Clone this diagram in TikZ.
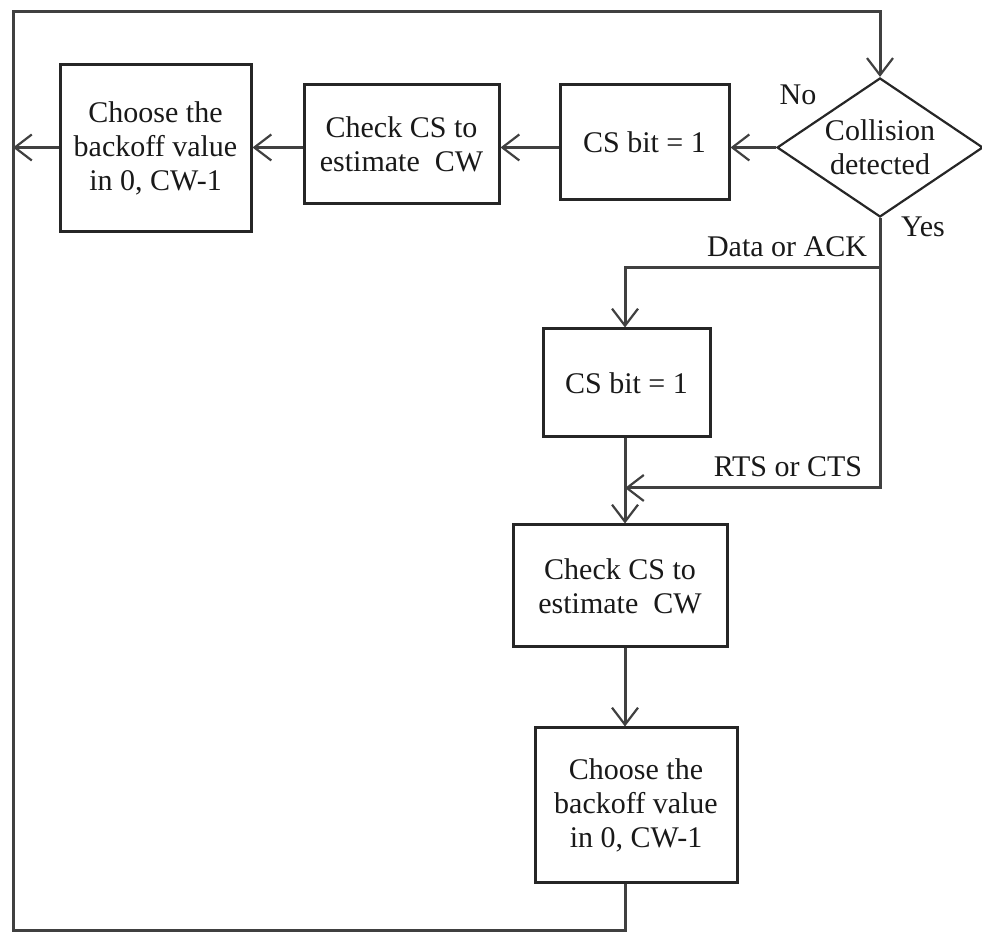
\documentclass[tikz,border=0pt]{standalone}
\usepackage{fontspec}
\setmainfont{Liberation Serif}
\usetikzlibrary{shapes, arrows.meta, positioning, calc}
\tikzset{
    every node/.style={ % Text of all nodes
    font=\fontsize{30}{34}\selectfont,
    align=center,
    text=black!90},
    block/.style={ % Rectangular process boxes
    draw=black!85,
    line width=3pt,
    inner sep=0pt},
    decision/.style={ % Decision diamond
    diamond,
    draw=black!85,
    line width=2.2pt,
    inner sep=0pt,
    aspect=1.48},
    flow/.style={ % Connectors with open arrowheads
    draw=black!75,
    line width=3pt,
    -{Straight Barb[length=17pt, width=26pt, line width=2.2pt]}},
    link/.style={draw=black!75, line width=3pt}}

\begin{document}
\begin{tikzpicture}[x=1pt, y=1pt]
    \useasboundingbox (0,0) rectangle (982,936);

    % Top row
    \node[decision, minimum width=206pt, minimum height=139pt] (collide) at (880,788.5) {Collision\\detected};
    \node[block, minimum width=169pt, minimum height=115pt] (csbit1) at (644.5,793.5) {CS bit = 1};
    \node[block, minimum width=195pt, minimum height=119pt] (check1) at (401.5,791.5) {Check CS to\\estimate~ CW};
    \node[block, minimum width=191pt, minimum height=167pt] (choose1) at (155.5,787.5) {Choose the\\backoff value\\in 0, CW-1};

    % Lower column
    \node[block, minimum width=167pt, minimum height=108pt] (csbit2) at (626.5,553) {CS bit = 1};
    \node[block, minimum width=214pt, minimum height=122pt] (check2) at (620,350) {Check CS to\\estimate~ CW};
    \node[block, minimum width=202pt, minimum height=155pt] (choose2) at (636,130.5) {Choose the\\backoff value\\in 0, CW-1};

    % Labels
    \node (no) at (798,841) {No};
    \node (yes) at (923,709) {Yes};
    \node (dataack) at (787,689) {Data or ACK};
    \node (rtscts) at (788,469) {RTS or CTS};

    % Helper points
    \coordinate (split) at (880,668);
    \coordinate (spine) at (625,448);
    \coordinate (botleft) at (13,5);
    \coordinate (topleft) at (13,924);

    % Top row connectors
    \draw[flow] (collide.west) -- (collide.west -| csbit1.east);
    \draw[flow] (csbit1.west |- collide.west) -- (check1.east |- collide.west);
    \draw[flow] (check1.west |- collide.west) -- (choose1.east |- collide.west);
    \draw[flow] (choose1.west |- collide.west) -- (botleft |- collide.west);

    % Yes branch
    \draw[flow] (collide.south) -- (split) -| (spine |- csbit2.north);
    \draw[flow] (split) |- (spine);
    \draw[flow] (spine |- csbit2.south) -- (spine |- check2.north);
    \draw[flow] (spine |- check2.south) -- (spine |- choose2.north);

    % Loop back
    \draw[flow] (spine |- choose2.south) |- (botleft) -- (topleft) -| (collide.north);
\end{tikzpicture}
\end{document}
